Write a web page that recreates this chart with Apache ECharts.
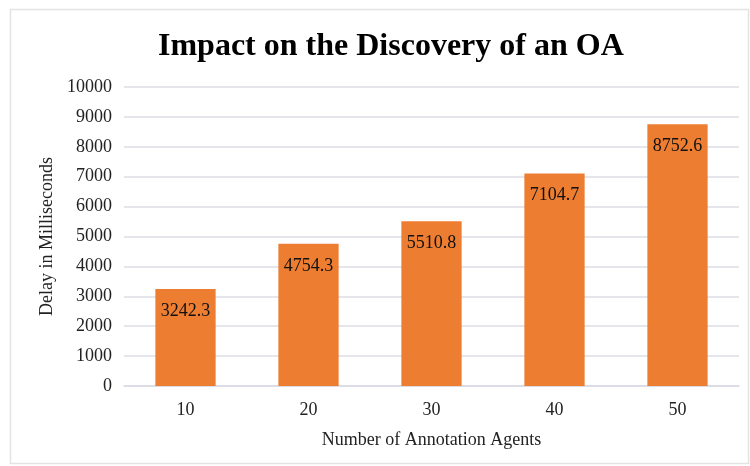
<!DOCTYPE html>
<html><head><meta charset="utf-8">
<script src="https://cdn.jsdelivr.net/npm/echarts@6/dist/echarts.min.js"></script>
<style>html,body{margin:0;padding:0;background:#fff}#c{width:750px;height:466px}</style>
</head><body><div id="c"></div>
<script>
const categories = ['10', '20', '30', '40', '50'];
const delays = [3242.3, 4754.3, 5510.8, 7104.7, 8752.6];
const yTicks = [0, 1000, 2000, 3000, 4000, 5000, 6000, 7000, 8000, 9000, 10000];

const chart = echarts.init(document.getElementById('c'));
const serif = '"Liberation Serif", "Times New Roman", serif';
chart.setOption({
  animation: false,
  backgroundColor: '#fff',
  graphic: [{
    type: 'rect', left: 8, top: 7, shape: {width: 738, height: 454},
    style: {fill: 'none', stroke: '#e3e3e3', lineWidth: 1.5}, silent: true
  }],
  title: {
    text: 'Impact on the Discovery of an OA',
    left: 153, top: 26,
    textStyle: {fontFamily: serif, fontWeight: 'bold', fontSize: 32, color: '#000'}
  },
  grid: {left: 124, right: 11, top: 87, bottom: 80},
  xAxis: {
    type: 'category', data: categories,
    name: 'Number of Annotation Agents', nameLocation: 'middle', nameGap: 45,
    nameTextStyle: {fontFamily: serif, fontSize: 18, color: '#222'},
    axisLine: {show: true, lineStyle: {color: '#d9d9e3', width: 1.5}},
    axisTick: {show: false},
    axisLabel: {fontFamily: serif, fontSize: 18, color: '#222', margin: 15}
  },
  yAxis: {
    type: 'value', min: yTicks[0], max: yTicks[yTicks.length - 1], interval: 1000,
    name: 'Delay in Milliseconds', nameLocation: 'middle', nameGap: 66,
    nameTextStyle: {fontFamily: serif, fontSize: 18, color: '#222'},
    axisLine: {show: false}, axisTick: {show: false},
    splitLine: {lineStyle: {color: '#dcdce6', width: 1.5}},
    axisLabel: {fontFamily: serif, fontSize: 18, color: '#222', margin: 12,
      formatter: v => String(v)}
  },
  series: [{
    type: 'bar', data: delays, barWidth: '49%',
    itemStyle: {color: '#ED7D31'},
    label: {
      show: true, position: 'insideTop', distance: 13,
      fontFamily: serif, fontSize: 18, color: '#111',
      formatter: p => p.value.toFixed(1)
    }
  }]
});
</script></body></html>
